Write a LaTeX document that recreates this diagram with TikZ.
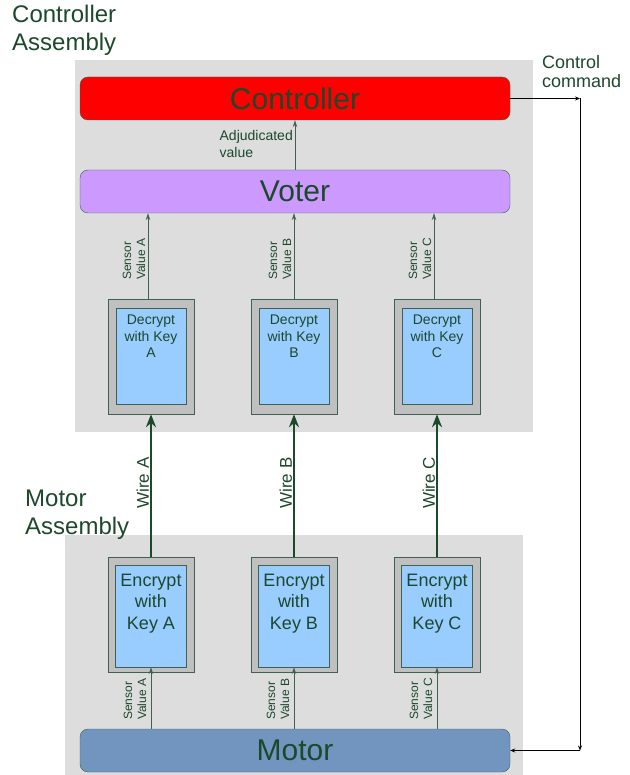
\documentclass[tikz,border=0pt]{standalone}
\usepackage{fontspec}
\setmainfont{Liberation Sans}
\usepackage{xcolor}
\usetikzlibrary{arrows.meta}
\definecolor{txtgreen}{RGB}{28,72,44}
\definecolor{edgegreen}{RGB}{64,96,80}
\definecolor{assemblygray}{RGB}{221,221,221}
\definecolor{keygray}{RGB}{192,192,192}
\definecolor{keyblue}{RGB}{153,204,255}
\definecolor{votepurple}{RGB}{204,153,255}
\definecolor{motorblue}{RGB}{114,149,192}

\begin{document}
\begin{tikzpicture}[x=1pt,y=-1pt,>={Stealth[length=7pt,width=4.5pt]},
  bigbox/.style={draw=edgegreen,rounded corners=8pt,minimum width=430pt,
    minimum height=43pt,text=txtgreen,font=\fontsize{30}{36}\selectfont},
  keyframe/.style={draw=edgegreen,fill=keygray,minimum width=86pt,
    minimum height=115pt,inner sep=0pt},
  keyface/.style={draw=edgegreen,fill=keyblue,inner sep=0pt},
  sig/.style={->,edgegreen,line width=0.8pt},
  wire/.style={-{Stealth[length=13pt,width=10pt]},txtgreen,line width=2.2pt},
  cmd/.style={-{Stealth[length=5pt,width=4pt]},black,line width=0.8pt},
  tag/.style={text=txtgreen,inner sep=0pt,align=center}]
\useasboundingbox (0,0) rectangle (629,775);
\fill[assemblygray] (75,60) rectangle (533,432);
\fill[assemblygray] (65,535) rectangle (523,775);
\node[tag,anchor=north west,align=left,font=\fontsize{24}{28}\selectfont]
  (ctrlasm) at (12,5) {Controller\\Assembly};
\node[tag,anchor=north west,align=left,font=\fontsize{24}{28}\selectfont]
  (motorasm) at (25,490) {Motor\\Assembly};
\node[bigbox,fill=red] (ctrl) at (295,98.5) {Controller};
\node[bigbox,fill=votepurple] (voter) at (295,191.5) {Voter};
\node[bigbox,fill=motorblue] (motor) at (295,750.5) {Motor};
\draw[sig] (voter.north) -- (ctrl.south);
\node[tag,anchor=north east,align=left,font=\fontsize{14}{17}\selectfont]
  (adjlabel) at (293,130) {Adjudicated\\value};
\foreach \k/\x/\s in {A/151/-3,B/294/0,C/437/-3} {
  \node[keyframe] (dec\k out) at (\x,356.5) {};
  \node[keyface,minimum width=70pt,minimum height=96pt,
    label={[tag,anchor=north,yshift=-7pt,font=\fontsize{14}{16.5}\selectfont]
      north:{Decrypt\\with Key\\\k}}] (dec\k) at (\x,356) {};
  \node[keyframe] (enc\k out) at (\x,614.5) {};
  \node[keyface,minimum width=71pt,minimum height=102pt,
    label={[tag,anchor=north,yshift=-9pt,font=\fontsize{18}{21.5}\selectfont]
      north:{Encrypt\\with\\Key \k}}] (enc\k) at (\x,616) {};
  \draw[wire] (enc\k out.north) -- (dec\k out.south);
  \node[tag,rotate=90,anchor=south,font=\fontsize{17}{20}\selectfont]
    (wire\k) at (\x-1.8,483) {Wire \k};
  \draw[sig] ([xshift=\s pt]dec\k out.north) -- ([xshift=\s pt]dec\k out.north |- voter.south);
  \node[tag,rotate=90,anchor=south west,align=left,font=\fontsize{12}{14}\selectfont]
    (sensdec\k) at (\x+\s-2.5,280) {Sensor\\Value \k};
  \draw[sig] (motor.north -| enc\k) -- (enc\k.south);
  \node[tag,rotate=90,anchor=south west,align=left,font=\fontsize{12}{14}\selectfont]
    (sensenc\k) at (\x-4.5,720) {Sensor\\Value \k};
}
\coordinate (cmdtop) at (580,98.5);
\coordinate (cmdbot) at (580,750.5);
\draw[cmd] (ctrl.east) -- (cmdtop);
\draw[cmd] (cmdtop) -- (cmdbot);
\draw[cmd] (cmdbot) -- (motor.east);
\node[tag,anchor=north west,align=left,font=\fontsize{18}{19}\selectfont]
  (cmdlabel) at (542,55) {Control\\command};
\end{tikzpicture}
\end{document}
